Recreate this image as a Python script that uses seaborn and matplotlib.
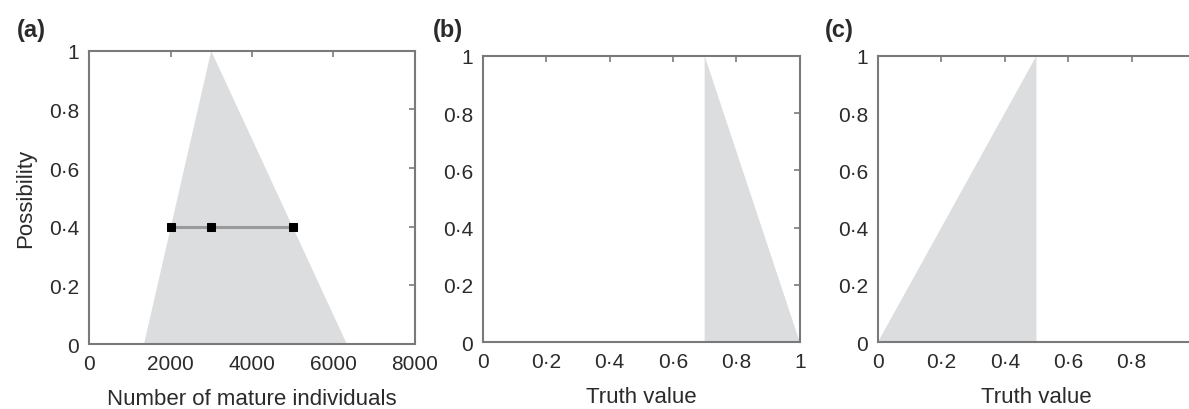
import numpy as np
import pandas as pd
import matplotlib
matplotlib.use('Agg')
import matplotlib.pyplot as plt
import seaborn as sns

# panel (a): fuzzy number of mature individuals
tri_a_x = [1350, 3000, 6330]
tri_a_y = [0, 1, 0]
cut_x = [2000, 3000, 5000]
cut_y = [0.4, 0.4, 0.4]

# panel (b) and (c): truth values
tri_b_x = [0.7, 0.7, 1.0]
tri_b_y = [0, 1, 0]
tri_c_x = [0.0, 0.5, 0.5]
tri_c_y = [0, 1, 0]

xticks_a = [0, 2000, 4000, 6000, 8000]
ticks_01 = [0, 0.2, 0.4, 0.6, 0.8, 1]
tick_labels_01 = ['0', '0·2', '0·4', '0·6', '0·8', '1']
# last label of panel (c) falls outside the picture
xtick_labels_c = ['0', '0·2', '0·4', '0·6', '0·8', '']

sns.set_style('white')
plt.rcParams['font.family'] = ['Liberation Sans', 'DejaVu Sans']

fill_col = '#dcdddf'
spine_col = '#7a7a7a'
text_col = '#2b2b2b'

fig = plt.figure(figsize=(11.89, 4.10), dpi=100)
ax_a = fig.add_axes([0.0749, 0.1585, 0.274, 0.715])
ax_b = fig.add_axes([0.406, 0.1634, 0.2666, 0.698])
ax_c = fig.add_axes([0.7384, 0.1634, 0.2666, 0.698])


def style(ax, xticks, xlabels):
    ax.set_ylim(0, 1)
    ax.set_yticks(ticks_01)
    ax.set_yticklabels(tick_labels_01)
    ax.set_xticks(xticks)
    ax.set_xticklabels(xlabels)
    ax.tick_params(direction='in', length=4, width=1.2, color=spine_col,
                   labelsize=15, labelcolor=text_col, pad=7,
                   top=True, right=True)
    for s in ax.spines.values():
        s.set_color(spine_col)
        s.set_linewidth(1.5)
    ax.set_ylabel('')


# (a)
ax_a.fill(tri_a_x, tri_a_y, color=fill_col, lw=0)
df_cut = pd.DataFrame({'x': cut_x, 'y': cut_y})
sns.lineplot(data=df_cut, x='x', y='y', ax=ax_a, color='#9a9a9a', lw=2.2,
             marker='s', markersize=6, markerfacecolor='black',
             markeredgecolor='black', zorder=3)
ax_a.set_xlim(0, 8000)
style(ax_a, xticks_a, [str(v) for v in xticks_a])
ax_a.set_xlabel('Number of mature individuals', fontsize=16, color=text_col, labelpad=11)
ax_a.set_ylabel('Possibility', fontsize=16, color=text_col, labelpad=9)

# (b)
ax_b.fill(tri_b_x, tri_b_y, color=fill_col, lw=0)
ax_b.set_xlim(0, 1)
style(ax_b, ticks_01, tick_labels_01)
ax_b.set_xlabel('Truth value', fontsize=16, color=text_col, labelpad=11)

# (c)
ax_c.fill(tri_c_x, tri_c_y, color=fill_col, lw=0)
ax_c.set_xlim(0, 1)
style(ax_c, ticks_01, xtick_labels_c)
ax_c.set_xlabel('Truth value', fontsize=16, color=text_col, labelpad=11)

for lab, x in [('(a)', 17), ('(b)', 433), ('(c)', 825)]:
    fig.text(x / 1189, 1 - 30 / 410, lab, fontsize=17, fontweight='bold',
             color=text_col, va='center', ha='left')

fig.savefig('out.png', dpi=100)
